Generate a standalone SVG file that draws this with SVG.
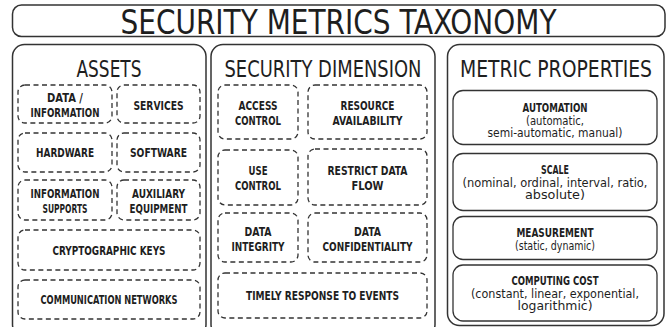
<svg xmlns="http://www.w3.org/2000/svg" width="667" height="327" viewBox="0 0 667 327">
<style>
text{font-family:"DejaVu Sans Condensed","Liberation Sans",sans-serif;fill:#1e1e1e;text-anchor:middle}
.panel{fill:#fff;stroke:#333;stroke-width:1.5}
.dash{fill:#fff;stroke:#333;stroke-width:1.3;stroke-dasharray:5 3.5}
.solid{fill:#fff;stroke:#333;stroke-width:1.3}
.big{font-size:34px}
.h{font-size:22.5px}
.lb{font-size:13px;font-weight:bold}
.sub{font-size:12px}
</style>
<rect width="667" height="327" fill="#fff"/>
<g id="title"><rect class="panel" x="12.5" y="5" width="652.5" height="31.5" rx="9"/><text class="big" x="338.5" y="33.5" textLength="436" lengthAdjust="spacingAndGlyphs">SECURITY METRICS TAXONOMY</text></g>

<g id="assets"><rect class="panel" x="12.5" y="44.5" width="193.5" height="292" rx="12"/><text class="h" x="109" y="77" textLength="65" lengthAdjust="spacingAndGlyphs">ASSETS</text></g>
<g id="a-data"><rect class="dash" x="18" y="85" width="94" height="38" rx="7"/><text class="lb" x="65" y="101.5" textLength="36" lengthAdjust="spacingAndGlyphs">DATA /</text><text class="lb" x="65" y="116.5" textLength="69" lengthAdjust="spacingAndGlyphs">INFORMATION</text></g>
<g id="a-services"><rect class="dash" x="117" y="85" width="83" height="38" rx="7"/><text class="lb" x="158.5" y="109.5" textLength="50" lengthAdjust="spacingAndGlyphs">SERVICES</text></g>
<g id="a-hardware"><rect class="dash" x="18" y="133" width="94" height="39" rx="7"/><text class="lb" x="65" y="156.5" textLength="58" lengthAdjust="spacingAndGlyphs">HARDWARE</text></g>
<g id="a-software"><rect class="dash" x="117" y="133" width="83" height="39" rx="7"/><text class="lb" x="158.5" y="157" textLength="57" lengthAdjust="spacingAndGlyphs">SOFTWARE</text></g>
<g id="a-infosupports"><rect class="dash" x="18" y="180" width="94" height="40" rx="7"/><text class="lb" x="65" y="197.5" textLength="69" lengthAdjust="spacingAndGlyphs">INFORMATION</text><text class="lb" x="65" y="212.5" textLength="45" lengthAdjust="spacingAndGlyphs">SUPPORTS</text></g>
<g id="a-auxiliary"><rect class="dash" x="117" y="180" width="83" height="40" rx="7"/><text class="lb" x="158.5" y="198" textLength="53" lengthAdjust="spacingAndGlyphs">AUXILIARY</text><text class="lb" x="158.5" y="213" textLength="58" lengthAdjust="spacingAndGlyphs">EQUIPMENT</text></g>
<g id="a-crypto"><rect class="dash" x="18" y="230" width="182" height="40" rx="7"/><text class="lb" x="109" y="255" textLength="113" lengthAdjust="spacingAndGlyphs">CRYPTOGRAPHIC KEYS</text></g>
<g id="a-comm"><rect class="dash" x="18" y="280" width="182" height="39" rx="7"/><text class="lb" x="109" y="304" textLength="137" lengthAdjust="spacingAndGlyphs">COMMUNICATION NETWORKS</text></g>

<g id="secdim"><rect class="panel" x="211" y="44.5" width="224" height="292" rx="12"/><text class="h" x="323" y="77" textLength="197" lengthAdjust="spacingAndGlyphs">SECURITY DIMENSION</text></g>
<g id="s-access"><rect class="dash" x="218" y="85" width="80" height="54" rx="7"/><text class="lb" x="258" y="110" textLength="39" lengthAdjust="spacingAndGlyphs">ACCESS</text><text class="lb" x="258" y="125" textLength="46" lengthAdjust="spacingAndGlyphs">CONTROL</text></g>
<g id="s-resource"><rect class="dash" x="308" y="85" width="119" height="54" rx="7"/><text class="lb" x="367.5" y="110" textLength="54" lengthAdjust="spacingAndGlyphs">RESOURCE</text><text class="lb" x="367.5" y="125" textLength="70" lengthAdjust="spacingAndGlyphs">AVAILABILITY</text></g>
<g id="s-use"><rect class="dash" x="218" y="150" width="80" height="55" rx="7"/><text class="lb" x="258" y="174.5" textLength="19" lengthAdjust="spacingAndGlyphs">USE</text><text class="lb" x="258" y="189.5" textLength="46" lengthAdjust="spacingAndGlyphs">CONTROL</text></g>
<g id="s-restrict"><rect class="dash" x="308" y="149" width="119" height="56" rx="7"/><text class="lb" x="367.5" y="174.5" textLength="80" lengthAdjust="spacingAndGlyphs">RESTRICT DATA</text><text class="lb" x="367.5" y="189.5" textLength="32" lengthAdjust="spacingAndGlyphs">FLOW</text></g>
<g id="s-integrity"><rect class="dash" x="218" y="213" width="80" height="49" rx="7"/><text class="lb" x="258" y="235.5" textLength="27" lengthAdjust="spacingAndGlyphs">DATA</text><text class="lb" x="258" y="250.5" textLength="53" lengthAdjust="spacingAndGlyphs">INTEGRITY</text></g>
<g id="s-confidentiality"><rect class="dash" x="308" y="213" width="119" height="49" rx="7"/><text class="lb" x="367.5" y="235.5" textLength="27" lengthAdjust="spacingAndGlyphs">DATA</text><text class="lb" x="367.5" y="250.5" textLength="90" lengthAdjust="spacingAndGlyphs">CONFIDENTIALITY</text></g>
<g id="s-timely"><rect class="dash" x="218" y="273" width="209" height="45" rx="7"/><text class="lb" x="322.5" y="300" textLength="153" lengthAdjust="spacingAndGlyphs">TIMELY RESPONSE TO EVENTS</text></g>

<g id="metric"><rect class="panel" x="447.5" y="44.5" width="216.5" height="281" rx="12"/><text class="h" x="556" y="77" textLength="192" lengthAdjust="spacingAndGlyphs">METRIC PROPERTIES</text></g>
<g id="m-automation"><rect class="solid" x="453" y="90.5" width="204" height="54" rx="10"/><text class="lb" x="555" y="111.5" textLength="65" lengthAdjust="spacingAndGlyphs">AUTOMATION</text><text class="sub" x="555" y="124.5" textLength="58" lengthAdjust="spacingAndGlyphs">(automatic,</text><text class="sub" x="555" y="137" textLength="135" lengthAdjust="spacingAndGlyphs">semi-automatic, manual)</text></g>
<g id="m-scale"><rect class="solid" x="453" y="153.5" width="204" height="57" rx="10"/><text class="lb" x="555" y="173.5" textLength="28" lengthAdjust="spacingAndGlyphs">SCALE</text><text class="sub" x="555" y="186.5" textLength="185" lengthAdjust="spacingAndGlyphs">(nominal, ordinal, interval, ratio,</text><text class="sub" x="555" y="199" textLength="60" lengthAdjust="spacingAndGlyphs">absolute)</text></g>
<g id="m-measurement"><rect class="solid" x="453" y="216.5" width="204" height="43" rx="10"/><text class="lb" x="555" y="236.5" textLength="77" lengthAdjust="spacingAndGlyphs">MEASUREMENT</text><text class="sub" x="555" y="250" textLength="80" lengthAdjust="spacingAndGlyphs">(static, dynamic)</text></g>
<g id="m-cost"><rect class="solid" x="453" y="265" width="204" height="56" rx="10"/><text class="lb" x="555" y="284.5" textLength="87" lengthAdjust="spacingAndGlyphs">COMPUTING COST</text><text class="sub" x="555" y="297.5" textLength="168" lengthAdjust="spacingAndGlyphs">(constant, linear, exponential,</text><text class="sub" x="555" y="310" textLength="75" lengthAdjust="spacingAndGlyphs">logarithmic)</text></g>
<g id="connectors"></g>
</svg>
